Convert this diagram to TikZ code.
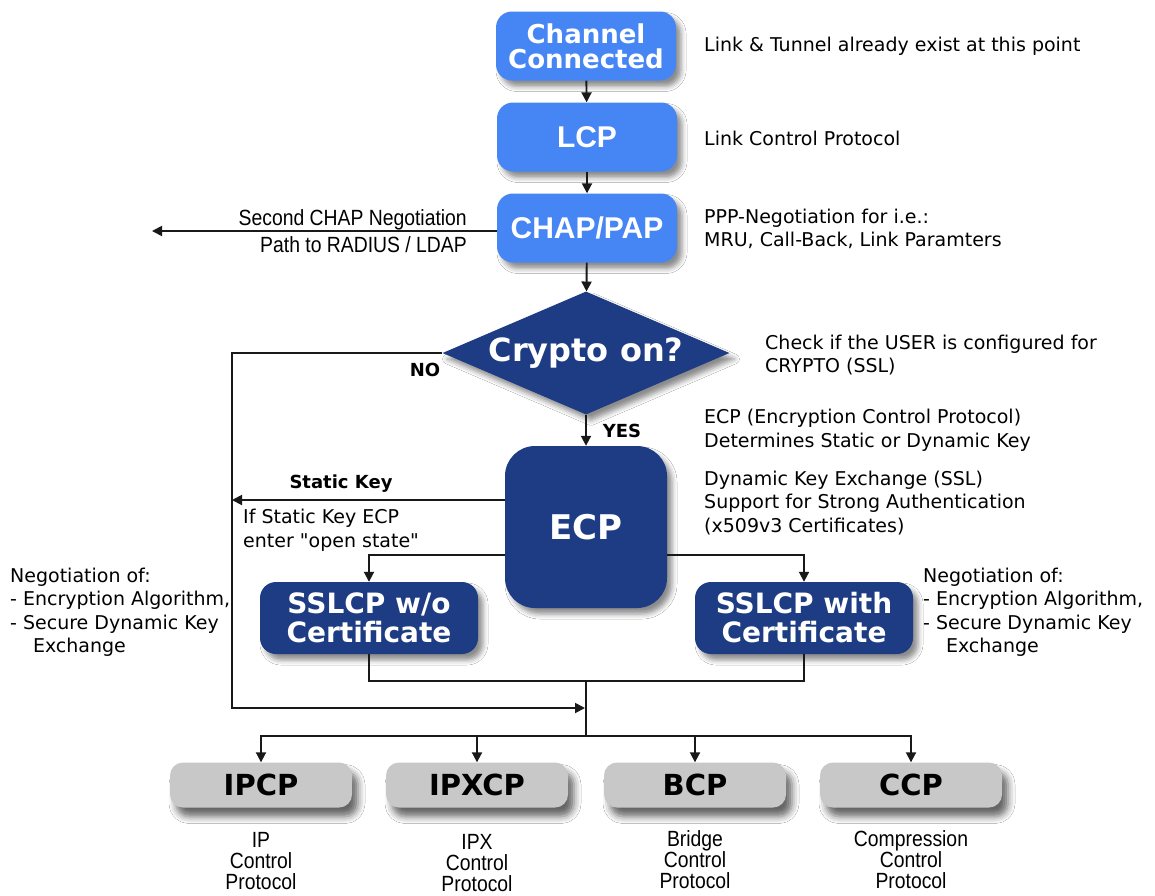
\documentclass[tikz,border=0pt]{standalone}
\usepackage{fontspec}
\setmainfont{DejaVu Sans}[Ligatures=TeXOff]
\newfontfamily\arialfont{Liberation Sans}
\newfontfamily\narrowfont[FakeStretch=0.88]{Liberation Sans}
\usetikzlibrary{shapes.geometric,arrows.meta,shadows.blur}

\definecolor{skyblue}{RGB}{70,134,244}
\definecolor{navyblue}{RGB}{29,60,132}
\definecolor{boxgray}{RGB}{200,200,200}
\definecolor{linegray}{RGB}{25,25,25}

\begin{document}
\begin{tikzpicture}[x=1pt,y=-1pt,
  shadowed/.style={blur shadow={shadow xshift=5pt,shadow yshift=-6pt,
      shadow blur radius=5pt,shadow opacity=45}},
  grayshadow/.style={blur shadow={shadow xshift=6pt,shadow yshift=-9pt,
      shadow blur radius=7pt,shadow opacity=60}},
  bluebox/.style={shadowed,fill=skyblue,rounded corners=16pt,text=white,
      align=center,inner sep=0pt,minimum width=180pt,minimum height=69pt},
  navybox/.style={shadowed,fill=navyblue,text=white,align=center,inner sep=0pt},
  graybox/.style={grayshadow,fill=boxgray,rounded corners=13pt,inner sep=0pt,
      minimum width=182pt,minimum height=45pt,
      font=\bfseries\fontsize{29}{29}\selectfont},
  note/.style={font=\fontsize{19}{23.5}\selectfont,align=left,anchor=west,inner sep=0pt},
  tag/.style={font=\bfseries\fontsize{18}{18}\selectfont,inner sep=0pt},
  sub/.style={font=\narrowfont\fontsize{22}{21}\selectfont,align=center,inner sep=0pt},
  conn/.style={draw=linegray,line width=1.9pt},
  arr/.style={conn,-{Triangle[length=10pt,width=10pt]}}
]
\useasboundingbox (0,0) rectangle (1155,895);
\fill[white] (0,0) rectangle (1155,895);

% main chain
\node[bluebox,font=\bfseries\fontsize{26}{25}\selectfont] (cc) at (586,46) {Channel\\Connected};
\node[bluebox,font=\arialfont\bfseries\fontsize{30}{30}\selectfont] (lcp) at (587,137) {LCP};
\node[bluebox,font=\arialfont\bfseries\fontsize{30}{30}\selectfont] (chap) at (587,228) {CHAP/PAP};

\node[diamond,aspect=2.33,shadowed,fill=navyblue,text=white,inner sep=0pt,
      minimum width=287pt,minimum height=123pt,
      font=\bfseries\fontsize{32}{32}\selectfont] (crypto) at (586,353) {\raisebox{-3pt}{Crypto on?}};

\node[navybox,rounded corners=30pt,minimum width=162pt,minimum height=162pt,
      font=\bfseries\fontsize{34}{34}\selectfont] (ecp) at (586,527) {ECP};

\node[navybox,rounded corners=16pt,minimum width=218pt,minimum height=72pt,
      font=\bfseries\fontsize{28}{29}\selectfont] (sslwo) at (369,618) {SSLCP w/o\\Certificate};
\node[navybox,rounded corners=16pt,minimum width=218pt,minimum height=72pt,
      font=\bfseries\fontsize{28}{29}\selectfont] (sslw) at (804,618) {SSLCP with\\Certificate};

% network control protocols
\node[graybox] (ipcp)  at (261,785) {IPCP};
\node[graybox] (ipxcp) at (477,785) {IPXCP};
\node[graybox] (bcp)   at (695,785) {BCP};
\node[graybox] (ccp)   at (911,785) {CCP};

\node[sub] (ipcpt)  at (261,861) {IP\\Control\\Protocol};
\node[sub] (ipxcpt) at (477,863) {IPX\\Control\\Protocol};
\node[sub] (bcpt)   at (695,860) {Bridge\\Control\\Protocol};
\node[sub] (ccpt)   at (911,860) {Compression\\Control\\Protocol};

% routing points
\coordinate (radius) at (152,231);
\coordinate (nolow) at (232,708);
\coordinate (mergein) at (585,708);
\coordinate (join) at (586,681);
\coordinate (split) at (586,736);
\coordinate (statictip) at (232,500);

% connectors
\draw[arr] (cc) -- (lcp);
\draw[arr] (lcp) -- (chap);
\draw[arr] (chap) -- (crypto);
\draw[arr] (chap.west |- radius) -- (radius);
\draw[arr] (crypto) -- (ecp);
\draw[arr] (crypto.west) -- (crypto.west -| nolow) -- (nolow) -- (mergein);
\draw[arr] (ecp.west |- statictip) -- (statictip);
\draw[arr] ([yshift=-28pt]ecp.west) -| (sslwo.north);
\draw[arr] ([yshift=-28pt]ecp.east) -| (sslw.north);
\draw[conn] (sslwo.south) |- (join) -| (sslw.south);
\draw[conn] (join) -- (split);
\draw[arr] (split) -| (ipcp.north);
\draw[arr] (split) -| (ipxcp.north);
\draw[arr] (split) -| (bcp.north);
\draw[arr] (split) -| (ccp.north);

% labels on connectors
\node[font=\narrowfont\fontsize{22}{27}\selectfont,align=right,anchor=east,inner sep=0pt]
  (radiustxt) at (467,231) {Second CHAP Negotiation\\Path to RADIUS / LDAP};
\node[tag] (notag) at (425,370) {NO};
\node[tag] (yestag) at (622,431) {YES};
\node[tag] (statictag) at (341,484) {Static Key};
\node[note] (opentxt) at (243,530) {If Static Key ECP\\enter "open state"};

% annotations
\node[note] (n1) at (704,46) {Link \& Tunnel already exist at this point};
\node[note] (n2) at (704,138) {Link Control Protocol};
\node[note] (n3) at (704,229) {PPP-Negotiation for i.e.:\\MRU, Call-Back, Link Paramters};
\node[note] (n4) at (765,355) {Check if the USER is configured for\\CRYPTO (SSL)};
\node[note] (n5) at (704,430) {ECP (Encryption Control Protocol)\\Determines Static or Dynamic Key};
\node[note] (n6) at (704,503) {Dynamic Key Exchange (SSL)\\Support for Strong Authentication\\(x509v3 Certificates)};
\node[note] (n7) at (10,612) {Negotiation of:\\- Encryption Algorithm,\\- Secure Dynamic Key\\\hspace*{1.2em}Exchange};
\node[note] (n8) at (923,612) {Negotiation of:\\- Encryption Algorithm,\\- Secure Dynamic Key\\\hspace*{1.2em}Exchange};
\end{tikzpicture}
\end{document}
